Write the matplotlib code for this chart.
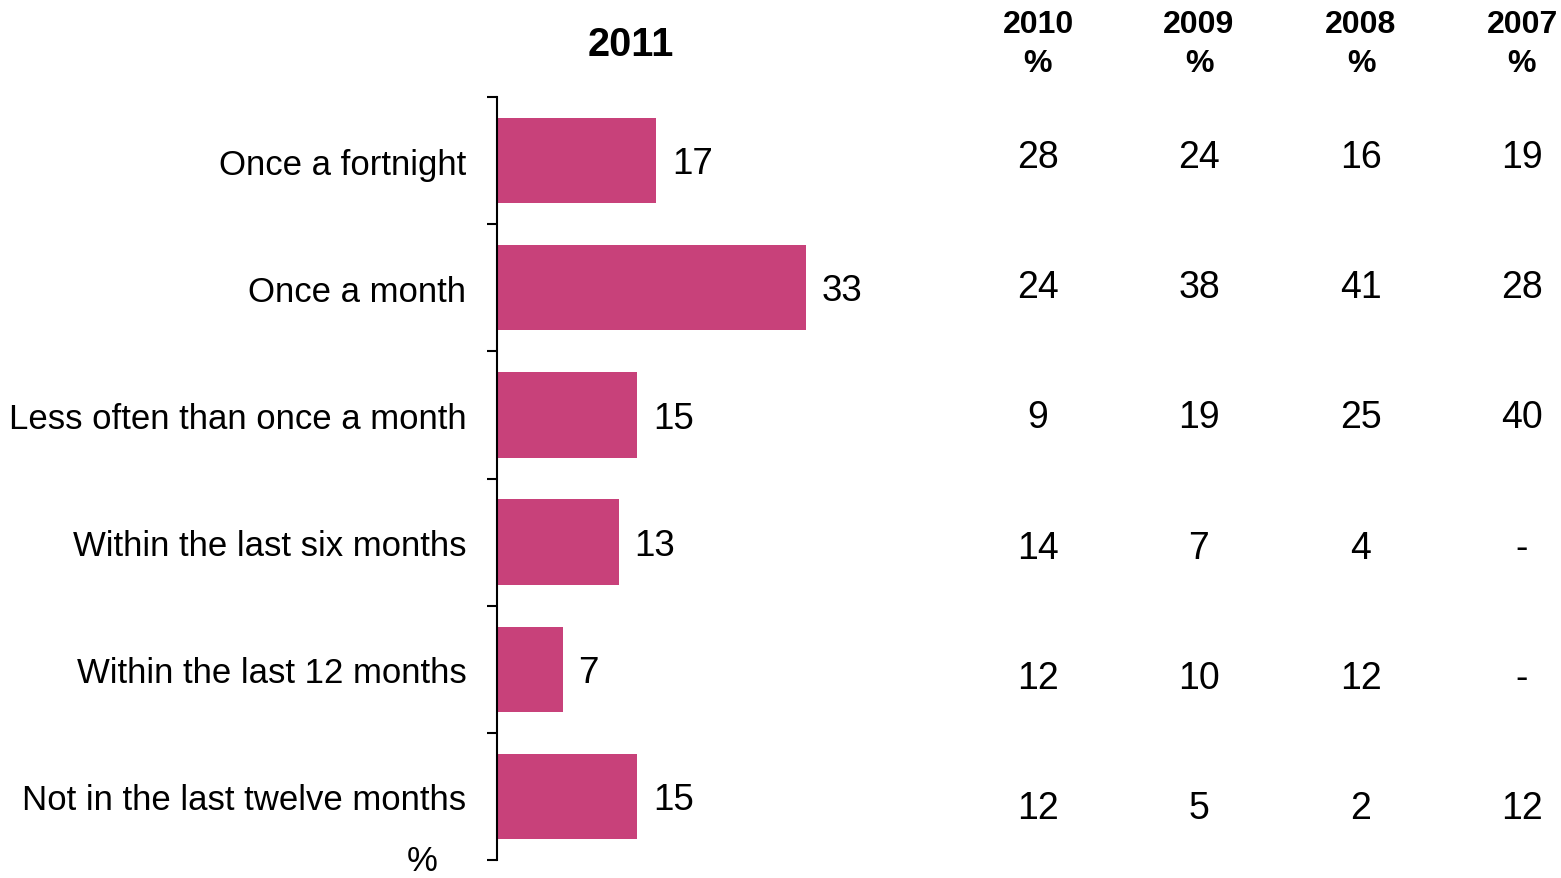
import numpy as np
import matplotlib.pyplot as plt

plt.rcParams['font.family'] = ['Liberation Sans', 'DejaVu Sans']

# 数据
categories = ['Once a fortnight', 'Once a month', 'Less often than once a month',
              'Within the last six months', 'Within the last 12 months',
              'Not in the last twelve months']
values_2011 = [17, 33, 15, 13, 7, 15]
years = ['2010', '2009', '2008', '2007']
col_2010 = ['28', '24', '9', '14', '12', '12']
col_2009 = ['24', '38', '19', '7', '10', '5']
col_2008 = ['16', '41', '25', '4', '12', '2']
col_2007 = ['19', '28', '40', '-', '-', '12']

W, H = 1561, 879
fig = plt.figure(figsize=(W / 100, H / 100), dpi=100)
ax = fig.add_axes([497 / W, 1 - 861 / H, 468 / W, (861 - 98) / H])

y = np.arange(len(categories))
bars = ax.barh(y, values_2011, height=0.67, color='#C8417A')
for b, v in zip(bars, values_2011):
    ax.text(b.get_width() + 1.7, b.get_y() + b.get_height() / 2 + 0.025, str(v),
            va='center', ha='left', fontsize=26.5)

ax.set_xlim(0, 50)
ax.set_ylim(len(categories) - 0.5, -0.5)
ax.set_yticks(y)
ax.set_yticklabels(categories, fontsize=25)
ax.tick_params(axis='y', which='major', length=0, pad=22)
ax.set_yticks(np.arange(-0.5, len(categories)), minor=True)
ax.tick_params(axis='y', which='minor', length=7, width=1.5, direction='out')
ax.set_xticks([])
for s in ['top', 'right', 'bottom']:
    ax.spines[s].set_visible(False)
ax.spines['left'].set_linewidth(1.5)

# 标题和百分号
fig.text(631 / W, 1 - 45 / H, '2011', ha='center', va='center',
         fontsize=28.5, fontweight='bold')
fig.text(422 / W, 1 - 862 / H, '%', ha='center', va='center', fontsize=25)

# 右侧表格
col_x = [1038, 1199, 1361, 1522]
columns = [col_2010, col_2009, col_2008, col_2007]
for cx, yr, col in zip(col_x, years, columns):
    fig.text(cx / W, 1 - 25 / H, yr, ha='center', va='center',
             fontsize=23, fontweight='bold')
    fig.text(cx / W, 1 - 64 / H, '%', ha='center', va='center',
             fontsize=23, fontweight='bold')
    for i, val in enumerate(col):
        ry = 158 + i * 130.2
        fig.text(cx / W, 1 - ry / H, val, ha='center', va='center', fontsize=27)

fig.savefig('out.png', dpi=100)
